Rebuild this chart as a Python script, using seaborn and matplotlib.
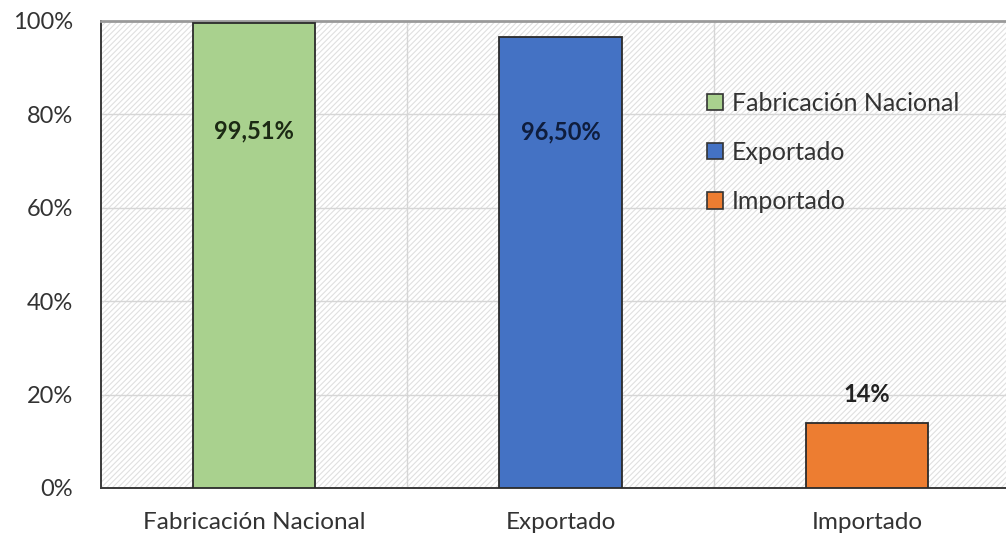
import matplotlib
matplotlib.use("Agg")
import matplotlib.pyplot as plt
import matplotlib.patches as mpatches
import pandas as pd
import seaborn as sns

# Data
categories = ["Fabricación Nacional", "Exportado", "Importado"]
values = [99.51, 96.50, 14.0]
value_labels = ["99,51%", "96,50%", "14%"]
label_y = [76.5, 76.3, 20.0]
colors = ["#a9d18e", "#4472c4", "#ed7d31"]
label_colors = ["#1c2a14", "#0f1d3d", "#222222"]
yticks = [0, 20, 40, 60, 80, 100]

sns.set_theme(style="white")
plt.rcParams["font.family"] = ["Lato", "DejaVu Sans"]
plt.rcParams["hatch.color"] = "#e0e0e0"
plt.rcParams["hatch.linewidth"] = 0.8

df = pd.DataFrame({"Categoria": categories, "Valor": values})

fig = plt.figure(figsize=(10.06, 5.36), dpi=100)
ax = fig.add_axes([0.1004, 0.0896, 0.9135, 0.8713])

# hatched plot background
ax.set_facecolor("white")
ax.patch.set_hatch("//////")
ax.patch.set_edgecolor("#e0e0e0")

sns.barplot(data=df, x="Categoria", y="Valor", hue="Categoria",
            palette=colors, saturation=1, width=0.40, edgecolor="#2b2b2b",
            linewidth=1.3, legend=False, ax=ax, zorder=3)

ax.set_ylim(0, 100)
ax.set_xlim(-0.5, 2.5)
ax.set_yticks(yticks)
ax.set_yticklabels([f"{t}%" for t in yticks])
ax.set_xlabel("")
ax.set_ylabel("")

# grid: horizontal at each tick, vertical between categories
ax.set_axisbelow(True)
for t in yticks[1:-1]:
    ax.axhline(t, color="#d6d6d6", linewidth=1.0, zorder=1)
for b in [0.5, 1.5]:
    ax.axvline(b, color="#d6d6d6", linewidth=1.0, zorder=1)

for side in ["left", "bottom"]:
    ax.spines[side].set_color("#3a3a3a")
    ax.spines[side].set_linewidth(1.4)
ax.spines["top"].set_color("#9a9a9a")
ax.spines["top"].set_linewidth(2.0)
ax.spines["right"].set_visible(False)

ax.tick_params(axis="both", length=0, labelsize=17, colors="#333333")
ax.tick_params(axis="x", labelsize=17.5)
ax.tick_params(axis="y", pad=20)
ax.tick_params(axis="x", pad=17)

for i, txt in enumerate(value_labels):
    ax.text(i, label_y[i], txt, ha="center", va="center", fontsize=17,
            fontweight="bold", color=label_colors[i], zorder=5)

handles = [mpatches.Patch(facecolor=c, edgecolor="#333333", linewidth=1.2, label=l)
           for c, l in zip(colors, categories)]
leg = ax.legend(handles=handles, loc="upper left", bbox_to_anchor=(0.648, 0.87),
                frameon=False, fontsize=18, handlelength=0.65, handleheight=0.65,
                handletextpad=0.35, labelspacing=1.05, borderaxespad=0)
for t in leg.get_texts():
    t.set_color("#333333")

fig.savefig("out.png", dpi=100)
